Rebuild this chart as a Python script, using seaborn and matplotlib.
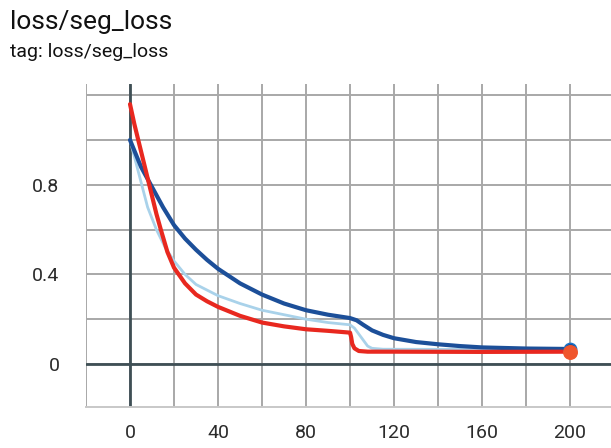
import numpy as np
import pandas as pd
import matplotlib
matplotlib.use("Agg")
import matplotlib.pyplot as plt
import seaborn as sns
from matplotlib.ticker import MultipleLocator, FuncFormatter

## Values
# smoothed blue run
blue_step = [0, 5, 10, 15, 20, 25, 30, 35, 40, 50, 60, 70, 80, 90, 100, 103, 106,
             110, 115, 120, 130, 140, 150, 160, 180, 200]
blue_loss = [1.0, 0.88, 0.79, 0.70, 0.62, 0.56, 0.51, 0.465, 0.425, 0.36, 0.31, 0.27,
             0.24, 0.22, 0.205, 0.195, 0.175, 0.15, 0.13, 0.115, 0.098, 0.088, 0.08,
             0.074, 0.069, 0.067]

# raw (light) blue run
raw_step = [0, 4, 8, 12, 16, 20, 25, 30, 40, 50, 60, 70, 80, 90, 100, 102, 105,
            108, 110, 115, 150, 200]
raw_loss = [1.0, 0.85, 0.70, 0.60, 0.52, 0.46, 0.40, 0.355, 0.305, 0.27, 0.24, 0.22,
            0.20, 0.185, 0.175, 0.16, 0.12, 0.08, 0.07, 0.066, 0.065, 0.065]

# red run
red_step = [0, 2, 4, 6, 8, 10, 12, 14, 17, 20, 25, 30, 35, 40, 50, 60, 70, 80, 90,
            100, 100.5, 101, 102, 104, 108, 120, 160, 200]
red_loss = [1.16, 1.07, 0.99, 0.91, 0.83, 0.75, 0.67, 0.60, 0.50, 0.43, 0.36, 0.31,
            0.28, 0.255, 0.215, 0.185, 0.168, 0.155, 0.148, 0.14, 0.12, 0.09, 0.07,
            0.058, 0.055, 0.055, 0.054, 0.055]

x_ticks_labeled = [0, 40, 80, 120, 160, 200]
y_ticks_labeled = [0, 0.4, 0.8]

sns.set_style("white")
plt.rcParams["font.family"] = ["Roboto", "DejaVu Sans"]

W, H = 611, 448
fig = plt.figure(figsize=(W / 100, H / 100), dpi=100)
ax = fig.add_axes([86 / W, 1 - 407 / H, (W - 86) / W, (407 - 84) / H])

grid_c = "#a8a8a8"
ax.set_xlim(-20, 218.6)
ax.set_ylim(-0.192, 1.25)
ax.xaxis.set_major_locator(MultipleLocator(20))
ax.yaxis.set_major_locator(MultipleLocator(0.2))
ax.xaxis.set_major_formatter(FuncFormatter(
    lambda v, p: f"{v:g}" if round(v) in x_ticks_labeled else ""))
ax.yaxis.set_major_formatter(FuncFormatter(
    lambda v, p: f"{v:.1f}".replace("0.0", "0") if any(abs(v - t) < 1e-6 for t in y_ticks_labeled) else ""))
ax.grid(True, color=grid_c, linewidth=1.4)
ax.set_axisbelow(True)
ax.tick_params(axis="both", colors=grid_c, labelcolor="#2b2b2b", labelsize=14,
               length=9, width=1.2)
ax.tick_params(axis="x", pad=4, length=8)
ax.tick_params(axis="y", pad=10, length=9)
for s in ["left", "right", "top"]:
    ax.spines[s].set_visible(False)
ax.spines["bottom"].set_color("#c8c8c8")
ax.spines["bottom"].set_linewidth(1.4)

# zero lines
ax.axvline(0, color="#3f4f55", linewidth=2, zorder=1.5)
ax.axhline(0, color="#3f4f55", linewidth=2, zorder=1.5)

sns.lineplot(x=raw_step, y=raw_loss, ax=ax, color="#a9d2ea", linewidth=2, zorder=3)
sns.lineplot(x=blue_step, y=blue_loss, ax=ax, color="#1c4f99", linewidth=3, zorder=4)
sns.lineplot(x=red_step, y=red_loss, ax=ax, color="#e8281f", linewidth=3, zorder=5)

ax.scatter([blue_step[-1]], [blue_loss[-1]], s=80, color="#1c4f99",
           edgecolor="#1a73c8", linewidth=1, zorder=6)
ax.scatter([red_step[-1]], [red_loss[-1]], s=95, color="#f0552c", zorder=7)
ax.set_xlabel("")
ax.set_ylabel("")

fig.text(10 / W, 1 - 29 / H, "loss/seg_loss", fontsize=19, color="#111111",
         va="baseline", ha="left")
fig.text(10 / W, 1 - 57 / H, "tag: loss/seg_loss", fontsize=14, color="#111111",
         va="baseline", ha="left")

fig.savefig("out.png", dpi=100)
